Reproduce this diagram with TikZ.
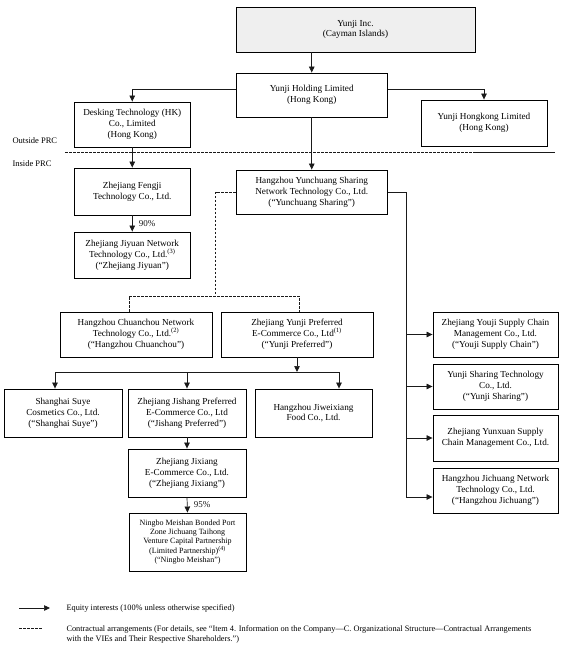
\documentclass[tikz,border=0pt]{standalone}
\usepackage{fontspec}
\setmainfont{Liberation Serif}
\usepackage{tikz}
\usepackage{xcolor}
\usetikzlibrary{arrows.meta,positioning,calc}
\definecolor{incfill}{HTML}{EFEFEF}
\definecolor{lnk}{HTML}{1A1A1A}

\begin{document}
\begin{tikzpicture}[x=1pt,y=-1pt,
    box/.style={draw=black, line width=0.9pt, inner sep=0pt, align=center,
                font=\fontsize{9.2}{10.8}\selectfont},
    eq/.style={-{Triangle[length=6pt,width=5.5pt]}, line width=0.7pt, color=lnk},
    ctr/.style={line width=0.7pt, color=lnk, dash pattern=on 2.5pt off 1.5pt},
    lbl/.style={font=\fontsize{9}{10.7}\selectfont, anchor=west},
    note/.style={font=\fontsize{8.3}{9.8}\selectfont, anchor=west, align=left}
]
  \useasboundingbox (0,0) rectangle (569,649);

  % Offshore entities
  \node[box, fill=incfill, minimum width=239pt, minimum height=45pt] (inc) at (355.5,29.5)
    {Yunji Inc.\\(Cayman Islands)};
  \node[box, minimum width=151.5pt, minimum height=44pt] (hold) at (311.75,95)
    {Yunji Holding Limited\\(Hong Kong)};
  \node[box, minimum width=116.5pt, minimum height=45pt] (desk) at (132.25,124.5)
    {Desking Technology (HK)\\Co., Limited\\(Hong Kong)};
  \node[box, minimum width=126pt, minimum height=46pt] (hk) at (484,123)
    {Yunji Hongkong Limited\\(Hong Kong)};

  % PRC boundary
  \node[note, font=\fontsize{8.5}{10}\selectfont] (outside) at (9,141) {Outside PRC};
  \node[note, font=\fontsize{8.5}{10}\selectfont] (inside) at (9,164) {Inside PRC};
  \draw[ctr] (65,152) -- (475,152);
  \draw[line width=0.7pt, color=lnk] (475,152) -- (555,152);

  % Onshore entities
  \node[box, minimum width=116.5pt, minimum height=47pt] (fengji) at (132.25,191.5)
    {Zhejiang Fengji\\Technology Co., Ltd.};
  \node[box, minimum width=151.5pt, minimum height=44pt] (ycs) at (311.75,192)
    {Hangzhou Yunchuang Sharing\\Network Technology Co., Ltd.\\(“Yunchuang Sharing”)};
  \node[box, minimum width=116.5pt, minimum height=46pt] (jiyuan) at (132.25,255)
    {Zhejiang Jiyuan Network\\Technology Co., Ltd.\textsuperscript{(3)}\\(“Zhejiang Jiyuan”)};

  \node[box, minimum width=152pt, minimum height=45pt] (chuan) at (136,334.5)
    {Hangzhou Chuanchou Network\\Technology Co., Ltd.\textsuperscript{(2)}\\(“Hangzhou Chuanchou”)};
  \node[box, minimum width=152pt, minimum height=45pt] (yjpref) at (297,334.5)
    {Zhejiang Yunji Preferred\\E-Commerce Co., Ltd\textsuperscript{(1)}\\(“Yunji Preferred”)};

  \node[box, minimum width=118pt, minimum height=48pt] (suye) at (63,413)
    {Shanghai Suye\\Cosmetics Co., Ltd.\\(“Shanghai Suye”)};
  \node[box, minimum width=118pt, minimum height=48pt] (jishang) at (187,413)
    {Zhejiang Jishang Preferred\\E-Commerce Co., Ltd\\(“Jishang Preferred”)};
  \node[box, minimum width=117pt, minimum height=48pt] (jiwei) at (313.5,413)
    {Hangzhou Jiweixiang\\Food Co., Ltd.};
  \node[box, minimum width=118pt, minimum height=48pt] (jixiang) at (187,473)
    {Zhejiang Jixiang\\E-Commerce Co., Ltd.\\(“Zhejiang Jixiang”)};
  \node[box, minimum width=117pt, minimum height=58pt, font=\fontsize{8}{9.3}\selectfont] (ningbo) at (187.5,542)
    {Ningbo Meishan Bonded Port\\Zone Jichuang Taihong\\Venture Capital Partnership\\(Limited Partnership)\textsuperscript{(4)}\\(“Ningbo Meishan”)};

  \node[box, minimum width=125pt, minimum height=45pt] (youji) at (495.5,334.5)
    {Zhejiang Youji Supply Chain\\Management Co., Ltd.\\(“Youji Supply Chain”)};
  \node[box, minimum width=125pt, minimum height=45pt] (yjshare) at (495.5,386.5)
    {Yunji Sharing Technology\\Co., Ltd.\\(“Yunji Sharing”)};
  \node[box, minimum width=125pt, minimum height=46pt] (yunxuan) at (495.5,438)
    {Zhejiang Yunxuan Supply\\Chain Management Co., Ltd.};
  \node[box, minimum width=125pt, minimum height=45pt] (jichuang) at (495.5,490.5)
    {Hangzhou Jichuang Network\\Technology Co., Ltd.\\(“Hangzhou Jichuang”)};

  % Equity links
  \draw[eq] (hold.north |- inc.south) -- (hold.north);
  \draw[eq] ([yshift=6pt]hold.west) -| (desk.north);
  \draw[eq] ([yshift=6pt]hold.east) -| (hk.north);
  \draw[eq] (hold.south) -- (ycs.north);
  \draw[eq] (desk.south) -- (fengji.north);
  \draw[eq] (fengji.south) -- node[lbl, right=3pt] {90\%} (jiyuan.north);

  \coordinate (bus) at (406,497);
  \draw[line width=0.7pt, color=lnk] (ycs.east) -| (bus);
  \foreach \n in {youji,yjshare,yunxuan}
    \draw[eq] (bus |- \n.west) -- (\n.west);
  \draw[eq] (bus) -- (bus -| jichuang.west);

  \coordinate (fork) at (297,372);
  \draw[eq] (yjpref.south) -- (fork);
  \draw[line width=0.7pt, color=lnk] ([xshift=-8pt]suye.north |- fork) -- ([xshift=25.5pt]jiwei.north |- fork);
  \draw[eq] ([xshift=-8pt]suye.north |- fork) -- ([xshift=-8pt]suye.north);
  \draw[eq] (jishang.north |- fork) -- (jishang.north);
  \draw[eq] ([xshift=25.5pt]jiwei.north |- fork) -- ([xshift=25.5pt]jiwei.north);
  \draw[eq] (jishang.south) -- (jixiang.north);
  \draw[eq] (jixiang.south) -- node[lbl, right=3pt] {95\%} (ningbo.north);

  % Contractual links
  \coordinate (vsplit) at (215.5,296);
  \draw[ctr] (ycs.west) -| (vsplit);
  \draw[ctr] ([xshift=-7pt]chuan.north) |- ([xshift=2pt]yjpref.north |- vsplit) -- ([xshift=2pt]yjpref.north);

  % Legend
  \coordinate (leq1) at (19,608);
  \coordinate (leq2) at (50,608);
  \draw[eq] (leq1) -- (leq2);
  \node[note] (leqtxt) at (63,608) {Equity interests (100\% unless otherwise specified)};
  \coordinate (lct1) at (19,628);
  \coordinate (lct2) at (43,628);
  \draw[ctr] (lct1) -- (lct2);
  \node[note, anchor=north west] (lcttxt) at (63,622)
    {Contractual arrangements (For details, see “Item 4. Information on the Company—C. Organizational Structure—Contractual Arrangements\\with the VIEs and Their Respective Shareholders.”)};
\end{tikzpicture}
\end{document}
